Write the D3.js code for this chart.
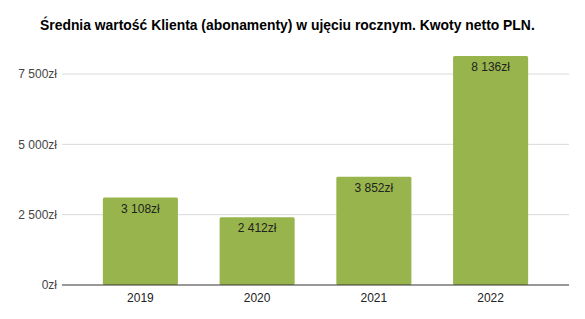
<!DOCTYPE html>
<html>
<head>
<meta charset="utf-8">
<script src="https://cdn.jsdelivr.net/npm/d3@7"></script>
<style>
  body { margin: 0; background: #fff; }
  svg { display: block; font-family: "Liberation Sans", Arial, sans-serif; }
</style>
</head>
<body>
<div id="chart"></div>
<script>
  // data
  const title = "Średnia wartość Klienta (abonamenty) w ujęciu rocznym. Kwoty netto PLN.";
  const years = ["2019", "2020", "2021", "2022"];
  const values = [3108, 2412, 3852, 8136];
  const yTicks = [0, 2500, 5000, 7500];

  const width = 585, height = 319;
  const margin = { top: 40, right: 16, bottom: 34, left: 62 };

  const fmt = (v) => {
    const s = String(v).replace(/\B(?=(\d{3})+(?!\d))/g, " ");
    return s + "zł";
  };

  const svg = d3.select("#chart").append("svg")
    .attr("width", width)
    .attr("height", height);

  svg.append("text")
    .attr("x", 40)
    .attr("y", 29.5)
    .attr("font-size", 13.9)
    .attr("font-weight", "bold")
    .attr("fill", "#000")
    .text(title);

  const x = d3.scaleBand()
    .domain(years)
    .range([margin.left, width - margin.right])
    .paddingInner(0.357)
    .paddingOuter(0.35);

  const y = d3.scaleLinear()
    .domain([0, 7500])
    .range([285, 74]);

  // gridlines
  svg.append("g")
    .selectAll("line")
    .data(yTicks.filter((d) => d > 0))
    .enter()
    .append("line")
    .attr("x1", margin.left)
    .attr("x2", width - margin.right)
    .attr("y1", (d) => y(d))
    .attr("y2", (d) => y(d))
    .attr("stroke", "#d9d9d9")
    .attr("stroke-width", 1);

  // y labels
  svg.append("g")
    .selectAll("text")
    .data(yTicks)
    .enter()
    .append("text")
    .attr("x", 57)
    .attr("y", (d) => y(d))
    .attr("dy", "0.35em")
    .attr("text-anchor", "end")
    .attr("font-size", 12)
    .attr("fill", "#444")
    .text(fmt);

  // bars
  svg.append("g")
    .selectAll("rect")
    .data(values)
    .enter()
    .append("rect")
    .attr("x", (d, i) => x(years[i]))
    .attr("width", x.bandwidth())
    .attr("y", (d) => y(d))
    .attr("height", (d) => y(0) - y(d))
    .attr("rx", 1.5)
    .attr("fill", "#97b54c");

  // value labels
  svg.append("g")
    .selectAll("text")
    .data(values)
    .enter()
    .append("text")
    .attr("x", (d, i) => x(years[i]) + x.bandwidth() / 2)
    .attr("y", (d) => y(d) + 11)
    .attr("dy", "0.35em")
    .attr("text-anchor", "middle")
    .attr("font-size", 12)
    .attr("fill", "#222")
    .text(fmt);

  // baseline
  svg.append("line")
    .attr("x1", margin.left)
    .attr("x2", width - margin.right)
    .attr("y1", y(0))
    .attr("y2", y(0))
    .attr("stroke", "#333")
    .attr("stroke-width", 1);

  // x labels
  svg.append("g")
    .selectAll("text")
    .data(years)
    .enter()
    .append("text")
    .attr("x", (d) => x(d) + x.bandwidth() / 2)
    .attr("y", 298)
    .attr("dy", "0.35em")
    .attr("text-anchor", "middle")
    .attr("font-size", 12)
    .attr("fill", "#222")
    .text((d) => d);
</script>
</body>
</html>
